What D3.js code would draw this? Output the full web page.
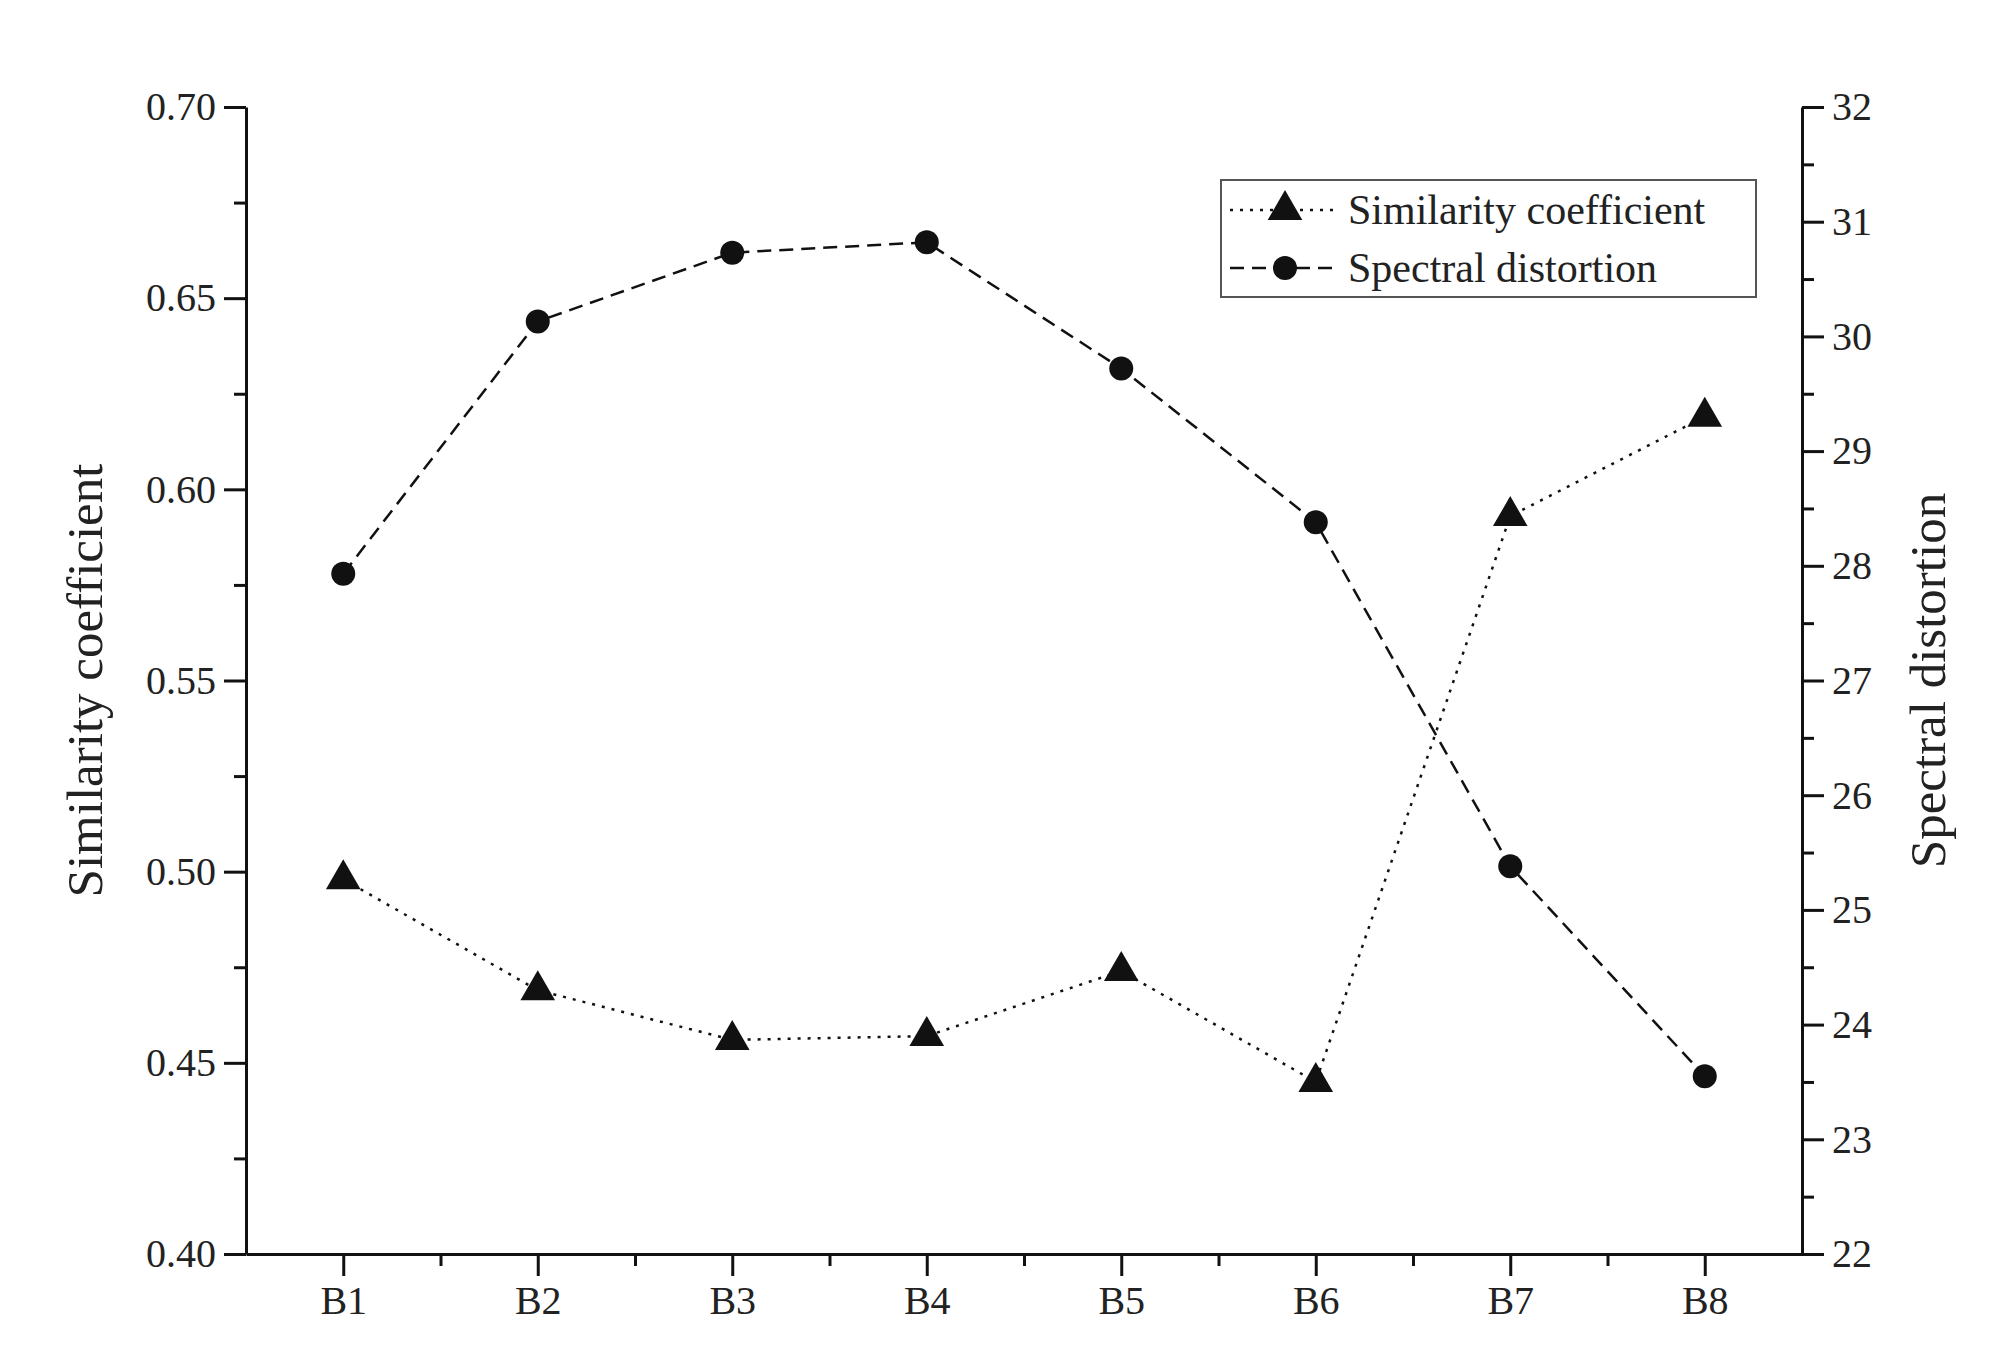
<!DOCTYPE html>
<html><head><meta charset="utf-8">
<script src="https://cdn.jsdelivr.net/npm/d3@7"></script>
<style>body{margin:0;background:#fff}text{font-family:"Liberation Serif","Times New Roman",serif;fill:#222}</style>
</head><body><svg id="c" width="1995" height="1366"></svg>
<script>
const categories=["B1","B2","B3","B4","B5","B6","B7","B8"];
const similarity=[0.498,0.469,0.456,0.457,0.474,0.445,0.593,0.619];
const distortion=[27.93,30.13,30.73,30.82,29.72,28.38,25.38,23.55];
const leftTicks=[0.40,0.45,0.50,0.55,0.60,0.65,0.70];
const rightTicks=[22,23,24,25,26,27,28,29,30,31,32];

const svg=d3.select("#c");
const L=246,R=1802,T=107,B=1254;
const x=d3.scalePoint().domain(categories).range([L,R]).padding(0.5);
const yL=d3.scaleLinear().domain([0.40,0.70]).range([B,T]);
const yR=d3.scaleLinear().domain([22,32]).range([B,T]);
const ink="#111";

function styleAxis(g,fs){g.selectAll("path,line").attr("stroke",ink).attr("stroke-width",3);g.selectAll("text").style("font-size",fs+"px");g.select(".domain").attr("stroke-width",3);}
const minorL=d3.range(0.425,0.70,0.05);
svg.append("g").attr("transform",`translate(${L},0)`).call(d3.axisLeft(yL).tickValues(minorL).tickSize(12).tickFormat("")).call(g=>{g.select(".domain").remove();g.selectAll("line").attr("stroke",ink).attr("stroke-width",3);});
const minorR=d3.range(22.5,32,1);
svg.append("g").attr("transform",`translate(${R},0)`).call(d3.axisRight(yR).tickValues(minorR).tickSize(12).tickFormat("")).call(g=>{g.select(".domain").remove();g.selectAll("line").attr("stroke",ink).attr("stroke-width",3);});
const step=x.step();
const minorX=categories.slice(0,7).map(c=>x(c)+step/2);
const xm=d3.scaleLinear().domain([L,R]).range([L,R]);
svg.append("g").attr("transform",`translate(0,${B})`).call(d3.axisBottom(xm).tickValues(minorX).tickSize(12).tickFormat("")).call(g=>{g.select(".domain").remove();g.selectAll("line").attr("stroke",ink).attr("stroke-width",3);});

svg.append("g").attr("transform",`translate(${L},0)`).call(d3.axisLeft(yL).tickValues(leftTicks).tickSize(22).tickSizeOuter(0).tickPadding(8).tickFormat(d3.format(".2f"))).call(g=>styleAxis(g,40));
svg.append("g").attr("transform",`translate(${R},0)`).call(d3.axisRight(yR).tickValues(rightTicks).tickSize(22).tickSizeOuter(0).tickPadding(8)).call(g=>styleAxis(g,40));
svg.append("g").attr("transform",`translate(0,${B})`).call(d3.axisBottom(x).tickSize(22).tickSizeOuter(0).tickPadding(10)).call(g=>styleAxis(g,40));
svg.selectAll(".tick text").attr("fill","#222");

svg.append("text").attr("transform",`translate(102,${(T+B)/2}) rotate(-90)`).attr("text-anchor","middle").style("font-size","51px").text("Similarity coefficient");
svg.append("text").attr("transform",`translate(1945,${(T+B)/2}) rotate(-90)`).attr("text-anchor","middle").style("font-size","51px").text("Spectral distortion");

const lineS=d3.line().x((d,i)=>x(categories[i])).y(d=>yL(d));
const lineD=d3.line().x((d,i)=>x(categories[i])).y(d=>yR(d));
svg.append("path").attr("d",lineS(similarity)).attr("fill","none").attr("stroke",ink).attr("stroke-width",2.5).attr("stroke-dasharray","3,7");
svg.append("path").attr("d",lineD(distortion)).attr("fill","none").attr("stroke",ink).attr("stroke-width",2.5).attr("stroke-dasharray","14,8");
const tri=d3.symbol().type(d3.symbolTriangle).size(520);
svg.selectAll(".tri").data(similarity).enter().append("path").attr("d",tri).attr("transform",(d,i)=>`translate(${x(categories[i])},${yL(d)})`).attr("fill",ink);
svg.selectAll(".cir").data(distortion).enter().append("circle").attr("cx",(d,i)=>x(categories[i])).attr("cy",d=>yR(d)).attr("r",12).attr("fill",ink);

const lg=svg.append("g");
lg.append("rect").attr("x",1221).attr("y",180).attr("width",535).attr("height",117).attr("fill","#fff").attr("stroke","#555").attr("stroke-width",2);
lg.append("line").attr("x1",1230).attr("x2",1340).attr("y1",210).attr("y2",210).attr("stroke",ink).attr("stroke-width",2.5).attr("stroke-dasharray","3,7");
lg.append("path").attr("d",tri).attr("transform","translate(1285,210)").attr("fill",ink);
lg.append("text").attr("x",1348).attr("y",224).style("font-size","42px").text("Similarity coefficient");
lg.append("line").attr("x1",1230).attr("x2",1340).attr("y1",268).attr("y2",268).attr("stroke",ink).attr("stroke-width",2.5).attr("stroke-dasharray","14,8");
lg.append("circle").attr("cx",1285).attr("cy",268).attr("r",12).attr("fill",ink);
lg.append("text").attr("x",1348).attr("y",282).style("font-size","42px").text("Spectral distortion");
</script></body></html>
